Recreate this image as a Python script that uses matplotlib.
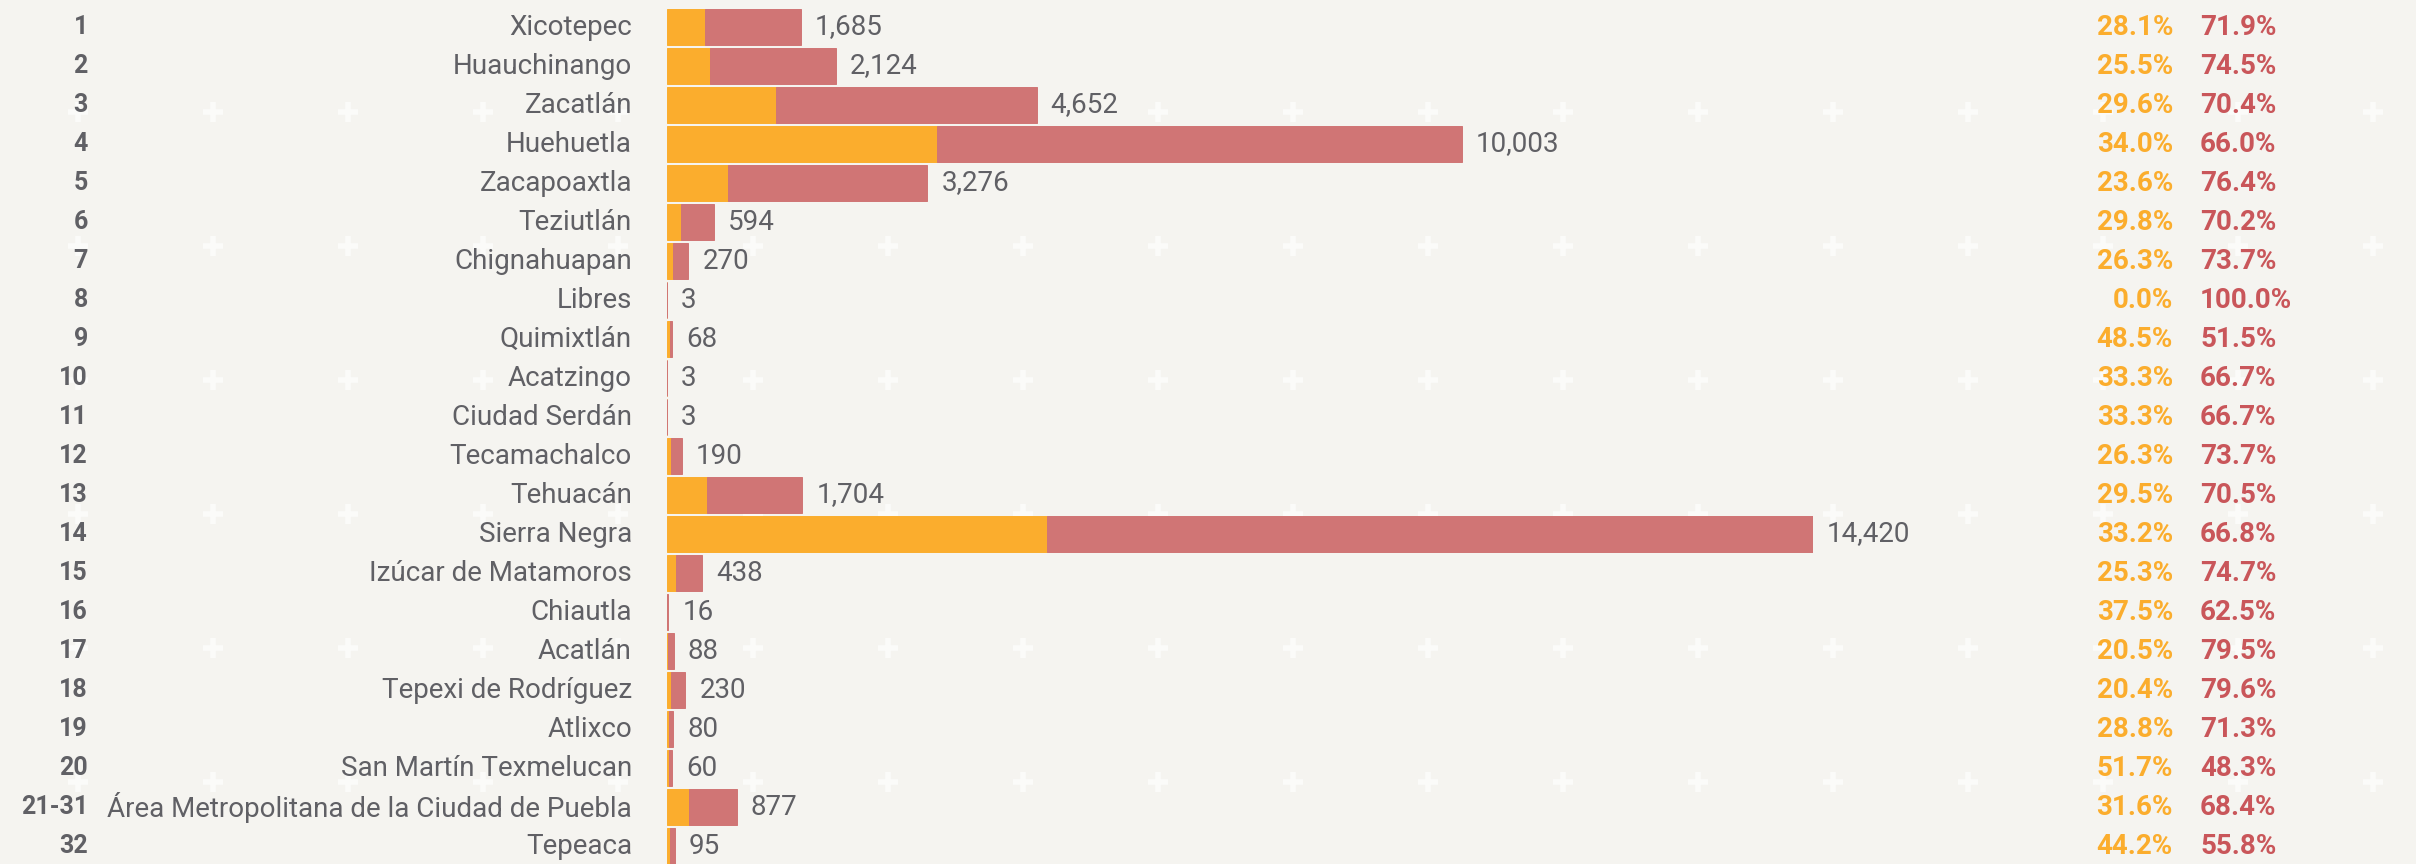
import matplotlib
matplotlib.use('Agg')
import matplotlib.pyplot as plt
import matplotlib.transforms as mtransforms
import numpy as np

# data
ranks = ['1', '2', '3', '4', '5', '6', '7', '8', '9', '10', '11', '12', '13', '14',
         '15', '16', '17', '18', '19', '20', '21-31', '32']
names = ['Xicotepec', 'Huauchinango', 'Zacatlán', 'Huehuetla', 'Zacapoaxtla',
         'Teziutlán', 'Chignahuapan', 'Libres', 'Quimixtlán', 'Acatzingo',
         'Ciudad Serdán', 'Tecamachalco', 'Tehuacán', 'Sierra Negra',
         'Izúcar de Matamoros', 'Chiautla', 'Acatlán', 'Tepexi de Rodríguez',
         'Atlixco', 'San Martín Texmelucan',
         'Área Metropolitana de la Ciudad de Puebla', 'Tepeaca']
totals = [1685, 2124, 4652, 10003, 3276, 594, 270, 3, 68, 3, 3, 190, 1704,
          14420, 438, 16, 88, 230, 80, 60, 877, 95]
pct_orange = [28.1, 25.5, 29.6, 34.0, 23.6, 29.8, 26.3, 0.0, 48.5, 33.3, 33.3,
              26.3, 29.5, 33.2, 25.3, 37.5, 20.5, 20.4, 28.8, 51.7, 31.6, 44.2]
pct_red = [71.9, 74.5, 70.4, 66.0, 76.4, 70.2, 73.7, 100.0, 51.5, 66.7, 66.7,
           73.7, 70.5, 66.8, 74.7, 62.5, 79.5, 79.6, 71.3, 48.3, 68.4, 55.8]

BG = '#f5f4f0'
ORANGE = '#fbad2d'
RED = '#d07575'
RED_TXT = '#c9565a'
GRAY = '#606065'

W, H = 2416, 864
fig = plt.figure(figsize=(W / 100, H / 100), dpi=100, facecolor=BG)

# background pattern of small crosses
bg = fig.add_axes([0, 0, 1, 1])
bg.set_xlim(0, W)
bg.set_ylim(H, 0)
bg.axis('off')
cx, cy = np.meshgrid(np.arange(78, W, 135), np.arange(112, H, 134))
bg.plot(cx.ravel(), cy.ravel(), ls='none', marker='+', ms=15, mew=4,
        color='#fbfbf9', zorder=0)

# bar axes: x=0 at px 667, 14420 at px 1813
x0, x1 = 667, 1813
ax = fig.add_axes([x0 / W, 0, (x1 - x0) / W, 1])
ax.patch.set_alpha(0)
ax.set_xlim(0, 14420)
pitch = 39.0
top = 27.0
ax.set_ylim((H - top) / pitch, -top / pitch)
ax.axis('off')

y = np.arange(len(names))
tot = np.array(totals, dtype=float)
orange = tot * np.array(pct_orange) / 100
red = tot - orange
ax.barh(y, orange, height=0.9, color=ORANGE, edgecolor=ORANGE, linewidth=0.7)
ax.barh(y, red, left=orange, height=0.9, color=RED, edgecolor=RED, linewidth=0.7)

tr = mtransforms.blended_transform_factory(fig.transFigure, ax.transData)
off = mtransforms.offset_copy(ax.transData, fig=fig, x=14, y=0, units='dots')

for i in range(len(names)):
    ax.text(88 / W, y[i], ranks[i], transform=tr, ha='right', va='center',
            fontsize=18, fontweight='bold', color=GRAY, family='Roboto')
    ax.text(632 / W, y[i], names[i], transform=tr, ha='right', va='center',
            fontsize=20, color=GRAY, family='Roboto')
    ax.text(totals[i], y[i], f'{totals[i]:,}', transform=off, ha='left',
            va='center', fontsize=20, color=GRAY, family='Roboto')
    ax.text(2173 / W, y[i], f'{pct_orange[i]:.1f}%', transform=tr, ha='right',
            va='center', fontsize=20, fontweight='bold', color=ORANGE,
            family='Roboto')
    ax.text(2200 / W, y[i], f'{pct_red[i]:.1f}%', transform=tr, ha='left',
            va='center', fontsize=20, fontweight='bold', color=RED_TXT,
            family='Roboto')

plt.savefig('out.png', dpi=100, facecolor=BG)
